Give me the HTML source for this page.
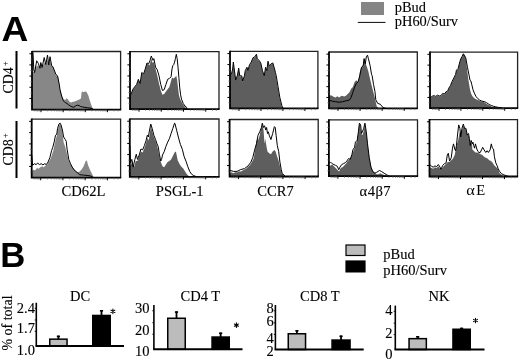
<!DOCTYPE html><html><head><meta charset="utf-8"><style>
html,body{margin:0;padding:0;background:#fff;width:520px;height:360px;overflow:hidden}
svg{display:block;filter:grayscale(1) blur(0.3px)}
.s{font-family:"Liberation Serif",serif;fill:#000;stroke:#000;stroke-width:0.12px}
.b{font-family:"Liberation Sans",sans-serif;font-weight:bold;fill:#000}
</style></head><body>
<svg width="520" height="360" viewBox="0 0 520 360">
<path d="M32,109.6 L32,72 L32,72 L34,72 L36.7,66 L38.3,65.5 L40,68.3 L40.8,65 L42.1,67.5 L44.2,62.5 L45.8,65 L47.5,60 L48.75,65 L50,60 L51.7,65.8 L52.9,66.7 L54.2,70 L55.8,74.2 L58.3,77.5 L59.38,84.92 L60,88.79 L61.72,94.83 L63.45,99.14 L65.17,100 L66.55,98.28 L67.76,99.14 L69.48,101.72 L71.21,102.59 L72.93,101.72 L74.66,101.38 L76.38,100.86 L78.1,100 L79.83,99.14 L81.03,98.28 L81.55,92.24 L82.41,91.38 L83.79,92.24 L85,91.38 L85.86,91.38 L86.72,92.24 L88.45,95.69 L89.66,100 L91.03,104.31 L92.41,107.76 L92.62,108.92 L92.62,109.6 Z" fill="#878787"/>
<path d="M32,52 L32,52 L33,52.5 L33.8,70 L34.6,72.5 L36.7,60.8 L38.3,63.3 L40,68.3 L40.8,62.5 L42.1,67.5 L44.2,57.5 L45.8,64.6 L47.5,55 L48.75,65 L50,56.7 L51.7,65.8 L52.9,66.7 L54.2,70 L55.8,74.2 L57.5,75.8 L59.38,84.92 L60,89.66 L61.72,96.55 L63.45,100.86 L65.17,102.59 L66.9,103.45 L68.62,104.83 L70.34,106.03 L72.07,106.9 L73.79,107.24 L75.52,106.03 L77.24,105.17 L78.97,105.52 L80.69,106.55 L82.41,106.9 L84.14,107.24 L87.59,107.76 L91.03,108.28 L92.76,108.62" fill="none" stroke="#000" stroke-width="1" stroke-linejoin="round"/>
<path d="M32,51.5 H120.6 V109.6" fill="none" stroke="#222" stroke-width="1.3"/>
<path d="M32,50.9 V109.6 H121.2" fill="none" stroke="#000" stroke-width="1.8"/>
<path d="M29.4,98.43H32M29.4,87.25H32M29.4,76.08H32M29.4,64.91H32M29.4,53.73H32M41,109.6V112.2M63.15,109.6V112.2M85.3,109.6V112.2M107.45,109.6V112.2" stroke="#000" stroke-width="1" fill="none"/>
<path d="M30.4,104.01H32M30.4,92.84H32M30.4,81.67H32M30.4,70.49H32M30.4,59.32H32M34.33,109.6V111.4M36.09,109.6V111.4M37.57,109.6V111.4M38.85,109.6V111.4M39.99,109.6V111.4M47.67,109.6V111.4M51.57,109.6V111.4M54.34,109.6V111.4M56.48,109.6V111.4M58.24,109.6V111.4M59.72,109.6V111.4M61,109.6V111.4M62.14,109.6V111.4M69.82,109.6V111.4M73.72,109.6V111.4M76.49,109.6V111.4M78.63,109.6V111.4M80.39,109.6V111.4M81.87,109.6V111.4M83.15,109.6V111.4M84.29,109.6V111.4M91.97,109.6V111.4M95.87,109.6V111.4M98.64,109.6V111.4M100.78,109.6V111.4M102.54,109.6V111.4M104.02,109.6V111.4M105.3,109.6V111.4M106.44,109.6V111.4M114.12,109.6V111.4M118.02,109.6V111.4" stroke="#666" stroke-width="0.7" fill="none"/>
<path d="M130,109.1 L130,96.21 L130,96.21 L130.59,95.69 L133.17,89.31 L136.62,85 L138.34,79.83 L140.07,84.14 L141.79,72.93 L143.52,74.66 L145.24,69.48 L146.97,63.45 L148.69,64.48 L149.55,65.52 L151.28,58.62 L152.66,62.93 L153.86,62.07 L155.59,68.97 L157.31,75.86 L159.03,83.62 L160.76,90.52 L162.48,94.83 L164.21,93.97 L165.93,91.38 L169.38,87.07 L172,77.59 L173.72,78.45 L175.45,76.72 L176.31,75.86 L177.17,80.17 L178.03,87.93 L178.9,94.83 L179.76,98.28 L181.48,101.72 L183.21,104.83 L184.93,106.9 L185.79,107.76 L186.92,108.92 L186.92,109.1 Z" fill="#5e5e5e"/>
<path d="M130,95.69 L130,95.69 L130.59,95.17 L133.17,88.79 L136.62,84.48 L138.34,79.31 L140.07,83.62 L141.79,72.41 L143.52,74.14 L145.24,68.97 L146.97,62.93 L148.69,63.79 L150.07,60.34 L151.28,56.03 L153,60.34 L153.86,58.62 L155.59,67.24 L157.31,69.83 L159.03,75.86 L160.76,84.48 L162.48,90.52 L164.21,89.66 L165.93,84.48 L167.66,79.31 L169.38,78.45 L171.1,76.72 L172,68.97 L172.86,65.52 L173.72,64.66 L174.59,62.07 L175.45,58.62 L176.31,54.31 L177.17,58.62 L178.03,67.24 L178.9,77.59 L179.76,87.93 L180.62,94.83 L181.48,99.14 L183.21,103.45 L184.93,106.03 L186.66,107.41 L186.92,108.92" fill="none" stroke="#000" stroke-width="1" stroke-linejoin="round"/>
<path d="M130,51.6 H219 V109.1" fill="none" stroke="#222" stroke-width="1.3"/>
<path d="M130,51 V109.1 H219.6" fill="none" stroke="#000" stroke-width="1.8"/>
<path d="M127.4,98.04H130M127.4,86.98H130M127.4,75.93H130M127.4,64.87H130M127.4,53.81H130M139,109.1V111.7M161.25,109.1V111.7M183.5,109.1V111.7M205.75,109.1V111.7" stroke="#000" stroke-width="1" fill="none"/>
<path d="M128.4,103.57H130M128.4,92.51H130M128.4,81.46H130M128.4,70.4H130M128.4,59.34H130M132.3,109.1V110.9M134.06,109.1V110.9M135.55,109.1V110.9M136.84,109.1V110.9M137.98,109.1V110.9M145.7,109.1V110.9M149.62,109.1V110.9M152.4,109.1V110.9M154.55,109.1V110.9M156.31,109.1V110.9M157.8,109.1V110.9M159.09,109.1V110.9M160.23,109.1V110.9M167.95,109.1V110.9M171.87,109.1V110.9M174.65,109.1V110.9M176.8,109.1V110.9M178.56,109.1V110.9M180.05,109.1V110.9M181.34,109.1V110.9M182.48,109.1V110.9M190.2,109.1V110.9M194.12,109.1V110.9M196.9,109.1V110.9M199.05,109.1V110.9M200.81,109.1V110.9M202.3,109.1V110.9M203.59,109.1V110.9M204.73,109.1V110.9M212.45,109.1V110.9M216.37,109.1V110.9" stroke="#666" stroke-width="0.7" fill="none"/>
<path d="M230,108.4 L230,76.55 L230,76.55 L230,76.55 L231.45,74.83 L232.66,69.66 L233.34,62.76 L234.03,67.93 L234.9,74.83 L235.76,80.86 L237.48,75.69 L238.69,68.79 L239.72,76.55 L241.79,76.55 L242.66,81.72 L244.38,76.55 L245.24,71.38 L246.97,67.93 L247.83,71.38 L249.55,65.34 L251.28,62.76 L253,58.45 L254.72,57.59 L256.45,55 L257.31,59.31 L259.03,61.03 L260.76,63.62 L262.48,71.38 L264.21,76.55 L265.59,67.93 L266.79,71.38 L268,61.9 L269.38,67.07 L271.1,64.48 L272.83,63.62 L274.55,69.66 L275.41,73.1 L275.85,75.69 L277.69,86.77 L279.54,97.85 L281.38,105.23 L282.31,108 L283.23,108.4 L283.23,108.4 Z" fill="#5e5e5e"/>
<path d="M230,75.86 L230,75.86 L230,75.86 L231.45,74.14 L232.66,68.97 L233.34,62.07 L234.03,67.24 L234.9,74.14 L235.76,80.17 L237.48,75 L238.69,68.1 L239.72,75.86 L241.79,75.86 L242.66,81.03 L244.38,75.86 L245.24,70.69 L246.97,67.24 L247.83,70.69 L249.55,64.66 L251.28,62.07 L253,57.76 L254.72,56.9 L256.45,54.31 L257.31,58.62 L259.03,60.34 L260.76,62.93 L262.48,70.69 L264.21,75.86 L265.59,67.24 L266.79,70.69 L268,61.21 L269.38,66.38 L271.1,63.79 L272.83,62.93 L274.55,68.97 L275.41,72.41 L276.22,75.69 L278.06,86.77 L279.91,97.85 L281.75,105.23 L282.68,108 L283.6,108.4" fill="none" stroke="#000" stroke-width="1" stroke-linejoin="round"/>
<path d="M230,51.4 H317.9 V108.4" fill="none" stroke="#222" stroke-width="1.3"/>
<path d="M230,50.8 V108.4 H318.5" fill="none" stroke="#000" stroke-width="1.8"/>
<path d="M227.4,97.44H230M227.4,86.48H230M227.4,75.52H230M227.4,64.55H230M227.4,53.59H230M239,108.4V111M260.98,108.4V111M282.95,108.4V111M304.92,108.4V111" stroke="#000" stroke-width="1" fill="none"/>
<path d="M228.4,102.92H230M228.4,91.96H230M228.4,81H230M228.4,70.03H230M228.4,59.07H230M232.38,108.4V110.2M234.12,108.4V110.2M235.6,108.4V110.2M236.87,108.4V110.2M237.99,108.4V110.2M245.62,108.4V110.2M249.48,108.4V110.2M252.23,108.4V110.2M254.36,108.4V110.2M256.1,108.4V110.2M257.57,108.4V110.2M258.85,108.4V110.2M259.97,108.4V110.2M267.59,108.4V110.2M271.46,108.4V110.2M274.21,108.4V110.2M276.33,108.4V110.2M278.07,108.4V110.2M279.55,108.4V110.2M280.82,108.4V110.2M281.94,108.4V110.2M289.57,108.4V110.2M293.43,108.4V110.2M296.18,108.4V110.2M298.31,108.4V110.2M300.05,108.4V110.2M301.52,108.4V110.2M302.8,108.4V110.2M303.92,108.4V110.2M311.54,108.4V110.2M315.41,108.4V110.2" stroke="#666" stroke-width="0.7" fill="none"/>
<path d="M329,108.3 L329,96.21 L329,96.21 L329,96.55 L330.45,95.17 L332.17,95.69 L333.9,96.9 L335.62,97.41 L337.34,96.21 L339.07,97.41 L341.66,95.69 L344.24,96.55 L345.97,95.69 L347.69,93.97 L349.41,92.24 L351.14,88.79 L352.86,87.07 L354.59,81.9 L356.31,80.17 L358.03,81.9 L358.9,78.45 L359.76,72.41 L361.48,67.24 L363.21,64.66 L364.07,57.76 L364.93,60.34 L365.79,63.79 L367,67.24 L368.38,71.55 L370.1,79.31 L371.83,86.21 L373.55,93.1 L374.93,98.28 L376.69,106.15 L378.54,108 L380.38,108.3 L380.38,108.3 Z" fill="#5e5e5e"/>
<path d="M329,100 L329,100 L329,100 L332.17,101.21 L335.62,101.72 L339.07,102.24 L342.52,101.72 L345.97,100.86 L349.41,100 L351.14,97.41 L352.86,92.24 L354.59,87.07 L356.31,83.62 L358.03,81.9 L359.76,75.86 L361.48,67.24 L363.21,65.52 L364.07,58.62 L365.28,63.79 L366.31,56.9 L367.52,55.17 L368.38,58.62 L370.1,65.52 L371.48,74.14 L372.17,75.86 L373.55,84.48 L374.93,91.38 L375.77,99.69 L377.62,103.38 L380.38,104.31 L382.23,106.71 L384.08,108 L385.92,108.3" fill="none" stroke="#000" stroke-width="1" stroke-linejoin="round"/>
<path d="M329,52 H417.3 V108.3" fill="none" stroke="#222" stroke-width="1.3"/>
<path d="M329,51.4 V108.3 H417.9" fill="none" stroke="#000" stroke-width="1.8"/>
<path d="M326.4,97.47H329M326.4,86.65H329M326.4,75.82H329M326.4,64.99H329M326.4,54.17H329M338,108.3V110.9M360.07,108.3V110.9M382.15,108.3V110.9M404.23,108.3V110.9" stroke="#000" stroke-width="1" fill="none"/>
<path d="M327.4,102.89H329M327.4,92.06H329M327.4,81.23H329M327.4,70.41H329M327.4,59.58H329M331.35,108.3V110.1M333.1,108.3V110.1M334.58,108.3V110.1M335.86,108.3V110.1M336.99,108.3V110.1M344.65,108.3V110.1M348.53,108.3V110.1M351.29,108.3V110.1M353.43,108.3V110.1M355.18,108.3V110.1M356.66,108.3V110.1M357.94,108.3V110.1M359.06,108.3V110.1M366.72,108.3V110.1M370.61,108.3V110.1M373.37,108.3V110.1M375.5,108.3V110.1M377.25,108.3V110.1M378.73,108.3V110.1M380.01,108.3V110.1M381.14,108.3V110.1M388.8,108.3V110.1M392.68,108.3V110.1M395.44,108.3V110.1M397.58,108.3V110.1M399.33,108.3V110.1M400.81,108.3V110.1M402.09,108.3V110.1M403.21,108.3V110.1M410.87,108.3V110.1M414.76,108.3V110.1" stroke="#666" stroke-width="0.7" fill="none"/>
<path d="M430,108.2 L430,98.62 L430,98.62 L430.59,98.28 L432.31,96.55 L434.03,96.21 L435.76,96.9 L437.48,95.69 L439.21,96.55 L440.93,96.21 L442.66,93.97 L444.38,94.48 L446.1,92.24 L447.83,91.38 L448.69,88.79 L450.41,86.21 L452.14,81.9 L453.86,78.45 L455.59,75 L456.45,70.69 L458.17,68.97 L459.9,62.07 L460.76,59.48 L462.14,56.9 L463.34,54.31 L464,55.17 L464.86,54.31 L465.72,58.62 L466.59,65.52 L467.45,72.41 L468.31,79.31 L469.17,84.48 L470.03,89.66 L471.24,93.97 L472.62,96.55 L474.34,98.28 L476.07,99.14 L477.79,100 L479.52,100.86 L481.24,101.38 L482.97,101.72 L484.69,102.59 L486.41,103.79 L488.14,104.83 L489.86,105.52 L491.59,106.55 L494.17,107.24 L496.76,107.76 L496.76,108.2 Z" fill="#5e5e5e"/>
<path d="M430,98.1 L430,98.1 L430.59,97.76 L432.31,96.03 L434.03,95.69 L435.76,96.38 L437.48,95.17 L439.21,96.03 L440.93,95.69 L442.66,93.45 L444.38,93.97 L446.1,91.72 L447.83,90.86 L448.69,88.28 L450.41,85.69 L452.14,81.38 L453.86,77.93 L455.59,74.48 L456.45,70.17 L458.17,68.45 L459.9,61.55 L460.76,58.97 L462.14,56.38 L463.34,53.79 L464,55.17 L465.72,57.76 L467.45,67.24 L468.83,74.14 L470.03,80.17 L470.9,81.03 L471.76,84.48 L472.97,89.66 L474.34,93.1 L476.07,96.55 L477.79,98.62 L479.52,100 L481.24,100.86 L482.97,101.38 L484.69,101.72 L486.41,102.59 L488.14,103.79 L489.86,104.83 L491.59,105.52 L493.31,106.21 L495.9,106.9 L498.48,107.41 L501.93,107.76" fill="none" stroke="#000" stroke-width="1" stroke-linejoin="round"/>
<path d="M430,52.2 H517.6 V108.2" fill="none" stroke="#222" stroke-width="1.3"/>
<path d="M430,51.6 V108.2 H518.2" fill="none" stroke="#000" stroke-width="1.8"/>
<path d="M427.4,97.43H430M427.4,86.66H430M427.4,75.89H430M427.4,65.12H430M427.4,54.35H430M439,108.2V110.8M460.9,108.2V110.8M482.8,108.2V110.8M504.7,108.2V110.8" stroke="#000" stroke-width="1" fill="none"/>
<path d="M428.4,102.82H430M428.4,92.05H430M428.4,81.28H430M428.4,70.51H430M428.4,59.74H430M432.41,108.2V110M434.14,108.2V110M435.61,108.2V110M436.88,108.2V110M438,108.2V110M445.59,108.2V110M449.45,108.2V110M452.19,108.2V110M454.31,108.2V110M456.04,108.2V110M457.51,108.2V110M458.78,108.2V110M459.9,108.2V110M467.49,108.2V110M471.35,108.2V110M474.09,108.2V110M476.21,108.2V110M477.94,108.2V110M479.41,108.2V110M480.68,108.2V110M481.8,108.2V110M489.39,108.2V110M493.25,108.2V110M495.99,108.2V110M498.11,108.2V110M499.84,108.2V110M501.31,108.2V110M502.58,108.2V110M503.7,108.2V110M511.29,108.2V110M515.15,108.2V110" stroke="#666" stroke-width="0.7" fill="none"/>
<path d="M31.7,177.7 L31.7,171.45 L31.7,171.45 L31.72,171.45 L33.45,169.72 L35.17,170.59 L36.9,168 L38.62,168.86 L40.34,167.14 L42.07,166.28 L43.79,167.14 L45.52,165.41 L47.24,164.55 L48.62,161.97 L49.83,160.24 L51.55,155.93 L53.28,150.76 L54.14,146.45 L55.86,138.69 L56.72,136.1 L57.59,130.07 L58.97,125.76 L60.17,124.03 L61.38,126.62 L62.76,135.24 L63.62,142.14 L65.34,147.31 L67.07,154.21 L68.79,161.1 L71.38,165.41 L73.97,168.86 L76.55,171.45 L77.93,172.31 L79.69,171.38 L81.54,169.54 L83.38,166.77 L85.23,162.15 L86.15,160.31 L87.08,161.23 L88,164.92 L89.85,169.54 L91.69,173.23 L93.54,176.92 L93.54,177.7 Z" fill="#878787"/>
<path d="M31.7,155.07 L31.7,155.07 L31.72,155.07 L32.59,165.41 L34.31,163.69 L36.03,164.55 L37.76,163.17 L39.48,164.55 L41.21,163.69 L42.93,164.9 L44.66,163.69 L46.38,164.55 L48.1,161.97 L49.83,157.66 L51.55,150.76 L52.76,147.31 L54.14,142.14 L55.52,135.24 L56.72,134.38 L57.59,128.34 L58.97,124.03 L60.17,123.17 L61.03,124.9 L62.41,130.07 L63.62,136.97 L65.34,139.55 L66.21,141.28 L67.07,149.03 L68.79,159.38 L70.52,163.69 L72.24,167.14 L73.97,169.72 L75.69,171.45 L77.93,173.17 L79.69,174.71 L83.38,175.08 L87.08,175.45 L90.77,176 L92.62,176.92" fill="none" stroke="#000" stroke-width="1" stroke-linejoin="round"/>
<path d="M31.7,119.1 H120.6 V177.7" fill="none" stroke="#222" stroke-width="1.3"/>
<path d="M31.7,118.5 V177.7 H121.2" fill="none" stroke="#000" stroke-width="1.8"/>
<path d="M29.1,166.43H31.7M29.1,155.16H31.7M29.1,143.89H31.7M29.1,132.62H31.7M29.1,121.35H31.7M40.7,177.7V180.3M62.92,177.7V180.3M85.15,177.7V180.3M107.38,177.7V180.3" stroke="#000" stroke-width="1" fill="none"/>
<path d="M30.1,172.07H31.7M30.1,160.8H31.7M30.1,149.53H31.7M30.1,138.26H31.7M30.1,126.99H31.7M34.01,177.7V179.5M35.77,177.7V179.5M37.26,177.7V179.5M38.55,177.7V179.5M39.68,177.7V179.5M47.39,177.7V179.5M51.3,177.7V179.5M54.08,177.7V179.5M56.23,177.7V179.5M57.99,177.7V179.5M59.48,177.7V179.5M60.77,177.7V179.5M61.91,177.7V179.5M69.62,177.7V179.5M73.53,177.7V179.5M76.31,177.7V179.5M78.46,177.7V179.5M80.22,177.7V179.5M81.71,177.7V179.5M83,177.7V179.5M84.13,177.7V179.5M91.84,177.7V179.5M95.75,177.7V179.5M98.53,177.7V179.5M100.68,177.7V179.5M102.44,177.7V179.5M103.93,177.7V179.5M105.22,177.7V179.5M106.36,177.7V179.5M114.07,177.7V179.5M117.98,177.7V179.5" stroke="#666" stroke-width="0.7" fill="none"/>
<path d="M129.8,176.8 L129.8,164.55 L129.8,164.55 L130.59,165.41 L132.31,161.1 L134.03,167.14 L135.76,161.1 L137.48,161.1 L139.21,155.93 L140.93,151.62 L142.66,152.48 L144.38,148.17 L146.1,143 L147.31,137.83 L148.69,140.41 L150.07,131.79 L150.93,125.76 L152.14,130.93 L153.86,136.97 L155.59,141.28 L157.31,146.45 L159.03,155.07 L160.76,161.97 L162.48,166.28 L164.21,167.14 L165.93,164.55 L167.66,161.97 L169.38,161.1 L171.1,159.38 L172.83,155.93 L174.55,152.48 L175.93,151.62 L177.69,160.31 L179.54,164 L181.38,166.77 L183.23,168.62 L185.08,171.38 L186.92,174.15 L188.77,176 L190.62,176.8 L190.62,176.8 Z" fill="#5e5e5e"/>
<path d="M129.8,145.59 L129.8,145.59 L130.59,162.83 L131.79,159.38 L133.17,167.14 L134.9,159.38 L136.28,154.21 L137.48,159.38 L139.21,155.07 L140.93,149.03 L142.66,149.9 L144.38,145.59 L146.1,140.41 L147.31,135.24 L148.34,136.97 L149.55,130.07 L150.76,124.03 L152.14,128.34 L153.86,135.24 L155.59,139.55 L156.97,143.86 L158.17,146.45 L159.38,154.21 L160.76,161.1 L161.62,159.38 L162.48,155.07 L164.21,151.62 L165.93,146.45 L167.66,142.14 L169.38,138.69 L171.1,133.52 L172.83,128.34 L174.55,123.17 L174.92,123.38 L176.77,130.77 L178.62,138.15 L180.46,144.62 L182.31,149.23 L184.15,156.62 L186,161.23 L187.85,166.77 L189.69,171.38 L191.54,174.15 L193.38,175.45 L196.15,176.55" fill="none" stroke="#000" stroke-width="1" stroke-linejoin="round"/>
<path d="M129.8,119 H219 V176.8" fill="none" stroke="#222" stroke-width="1.3"/>
<path d="M129.8,118.4 V176.8 H219.6" fill="none" stroke="#000" stroke-width="1.8"/>
<path d="M127.2,165.68H129.8M127.2,154.57H129.8M127.2,143.45H129.8M127.2,132.34H129.8M127.2,121.22H129.8M138.8,176.8V179.4M161.1,176.8V179.4M183.4,176.8V179.4M205.7,176.8V179.4" stroke="#000" stroke-width="1" fill="none"/>
<path d="M128.2,171.24H129.8M128.2,160.13H129.8M128.2,149.01H129.8M128.2,137.9H129.8M128.2,126.78H129.8M132.09,176.8V178.6M133.85,176.8V178.6M135.35,176.8V178.6M136.64,176.8V178.6M137.78,176.8V178.6M145.51,176.8V178.6M149.44,176.8V178.6M152.23,176.8V178.6M154.39,176.8V178.6M156.15,176.8V178.6M157.65,176.8V178.6M158.94,176.8V178.6M160.08,176.8V178.6M167.81,176.8V178.6M171.74,176.8V178.6M174.53,176.8V178.6M176.69,176.8V178.6M178.45,176.8V178.6M179.95,176.8V178.6M181.24,176.8V178.6M182.38,176.8V178.6M190.11,176.8V178.6M194.04,176.8V178.6M196.83,176.8V178.6M198.99,176.8V178.6M200.75,176.8V178.6M202.25,176.8V178.6M203.54,176.8V178.6M204.68,176.8V178.6M212.41,176.8V178.6M216.34,176.8V178.6" stroke="#666" stroke-width="0.7" fill="none"/>
<path d="M229.6,176.5 L229.6,173.23 L230.06,173.23 L231.54,172.31 L233.38,173.23 L235.23,172.31 L237.08,172.31 L238.92,171.38 L240.77,171.38 L242.62,170.46 L244.46,169.54 L246.31,168.62 L248.15,166.77 L250,164.92 L251.85,162.15 L253.69,158.46 L254.62,152.92 L255.54,147.38 L256.46,141.85 L257.38,138.15 L258,140.41 L259.72,135.24 L261.1,128.34 L262.31,124.03 L263.52,130.07 L264.55,143.86 L265.24,138.69 L266.62,147.31 L267.48,151.62 L269.21,153.34 L270.93,154.21 L272.66,151.62 L274.38,149.9 L275.59,151.62 L276.97,155.93 L278.69,161.1 L280.41,168 L281.79,173.17 L282.48,174.9 L283.23,175.08 L284.15,176.37 L284.15,176.5 Z" fill="#5e5e5e"/>
<path d="M229.6,170.46 L230.06,170.46 L233.38,171.38 L237.08,171.38 L240.77,169.54 L244.46,168.62 L248.15,165.85 L250.92,162.15 L252.77,157.54 L254.62,150.15 L256.46,143.69 L258,135.24 L259.72,131.79 L261.45,127.48 L262.31,123.17 L263.52,127.48 L264.55,125.76 L265.76,130.07 L266.62,127.48 L267.48,133.52 L268.34,131.79 L269.21,135.24 L270.93,139.55 L272.66,133.52 L274.38,126.62 L275.24,127.48 L276.1,135.24 L277.31,145.59 L278.69,151.62 L279.9,161.97 L281.28,169.72 L282.14,173.17 L283,174.9 L283.23,174.15 L285.08,176.37" fill="none" stroke="#000" stroke-width="1" stroke-linejoin="round"/>
<path d="M229.6,119.5 H318.2 V176.5" fill="none" stroke="#222" stroke-width="1.3"/>
<path d="M229.6,118.9 V176.5 H318.8" fill="none" stroke="#000" stroke-width="1.8"/>
<path d="M227,165.54H229.6M227,154.58H229.6M227,143.62H229.6M227,132.65H229.6M227,121.69H229.6M238.6,176.5V179.1M260.75,176.5V179.1M282.9,176.5V179.1M305.05,176.5V179.1" stroke="#000" stroke-width="1" fill="none"/>
<path d="M228,171.02H229.6M228,160.06H229.6M228,149.1H229.6M228,138.13H229.6M228,127.17H229.6M231.93,176.5V178.3M233.69,176.5V178.3M235.17,176.5V178.3M236.45,176.5V178.3M237.59,176.5V178.3M245.27,176.5V178.3M249.17,176.5V178.3M251.94,176.5V178.3M254.08,176.5V178.3M255.84,176.5V178.3M257.32,176.5V178.3M258.6,176.5V178.3M259.74,176.5V178.3M267.42,176.5V178.3M271.32,176.5V178.3M274.09,176.5V178.3M276.23,176.5V178.3M277.99,176.5V178.3M279.47,176.5V178.3M280.75,176.5V178.3M281.89,176.5V178.3M289.57,176.5V178.3M293.47,176.5V178.3M296.24,176.5V178.3M298.38,176.5V178.3M300.14,176.5V178.3M301.62,176.5V178.3M302.9,176.5V178.3M304.04,176.5V178.3M311.72,176.5V178.3M315.62,176.5V178.3" stroke="#666" stroke-width="0.7" fill="none"/>
<path d="M328.9,176.2 L328.9,166.62 L328.9,166.62 L328.9,166.28 L330.45,165.41 L332.17,164.55 L333.9,166.28 L335.62,168 L337.34,169.72 L339.07,171.45 L340.79,168 L342.52,167.14 L344.24,165.41 L345.97,163.69 L347.69,161.1 L349.41,159.38 L351.14,156.79 L352.86,152.48 L354.59,148.17 L356.31,143 L358.03,135.24 L359.07,124.9 L360.1,124.03 L361.14,133.52 L362.34,135.24 L363.55,131.79 L364.93,124.03 L366.31,132.66 L368.03,147.31 L369.76,160.24 L371.48,168 L373.21,171.45 L374.93,172.83 L376.69,174.15 L378.54,174.15 L380.38,173.23 L382.23,174.15 L384.08,175.08 L386.85,176 L388.69,176.2 L388.69,176.2 Z" fill="#5e5e5e"/>
<path d="M328.9,163.17 L328.9,163.17 L328.9,163.69 L330.45,161.97 L332.17,163.69 L333.9,164.55 L335.62,165.41 L337.34,166.28 L338.72,169.72 L339.93,167.14 L341.66,164.55 L343.38,163.69 L345.1,162.83 L346.83,161.1 L348.55,158.52 L350.28,159.38 L352,154.21 L352.86,149.9 L354.59,147.31 L355.45,142.14 L357.17,140.41 L358.38,131.79 L359.41,123.17 L360.62,124.9 L361.48,133.52 L362.69,130.93 L363.72,128.34 L364.93,123.17 L366.31,131.79 L367.52,143.86 L369.24,157.66 L370.97,167.14 L372.69,171.45 L374.93,173.17 L376.69,172.31 L379.46,170.46 L381.31,171.38 L384.08,173.23 L387.77,175.45 L389.62,176.2" fill="none" stroke="#000" stroke-width="1" stroke-linejoin="round"/>
<path d="M328.9,119.8 H417.5 V176.2" fill="none" stroke="#222" stroke-width="1.3"/>
<path d="M328.9,119.2 V176.2 H418.1" fill="none" stroke="#000" stroke-width="1.8"/>
<path d="M326.3,165.35H328.9M326.3,154.51H328.9M326.3,143.66H328.9M326.3,132.82H328.9M326.3,121.97H328.9M337.9,176.2V178.8M360.05,176.2V178.8M382.2,176.2V178.8M404.35,176.2V178.8" stroke="#000" stroke-width="1" fill="none"/>
<path d="M327.3,170.78H328.9M327.3,159.93H328.9M327.3,149.08H328.9M327.3,138.24H328.9M327.3,127.39H328.9M331.23,176.2V178M332.99,176.2V178M334.47,176.2V178M335.75,176.2V178M336.89,176.2V178M344.57,176.2V178M348.47,176.2V178M351.24,176.2V178M353.38,176.2V178M355.14,176.2V178M356.62,176.2V178M357.9,176.2V178M359.04,176.2V178M366.72,176.2V178M370.62,176.2V178M373.39,176.2V178M375.53,176.2V178M377.29,176.2V178M378.77,176.2V178M380.05,176.2V178M381.19,176.2V178M388.87,176.2V178M392.77,176.2V178M395.54,176.2V178M397.68,176.2V178M399.44,176.2V178M400.92,176.2V178M402.2,176.2V178M403.34,176.2V178M411.02,176.2V178M414.92,176.2V178" stroke="#666" stroke-width="0.7" fill="none"/>
<path d="M429.5,176.5 L429.5,167.14 L429.5,167.14 L429.72,167.14 L431.45,168 L433.17,168.86 L434.9,167.14 L436.62,168 L438.34,166.28 L440.07,168.86 L440.93,170.59 L442.66,167.14 L444.38,165.41 L446.1,163.69 L447.83,161.97 L449.55,161.97 L451.28,160.24 L453,158.52 L454.72,155.07 L455.93,148.17 L456.97,143.86 L458.17,140.41 L459.38,133.52 L460.76,131.79 L461.79,130.93 L463.34,125.76 L464.21,127.48 L465.07,128.34 L466.28,130.07 L467.66,135.24 L469.03,136.1 L470.24,145.59 L471.97,142.14 L472.34,149.38 L473.72,150.76 L475.45,152.48 L477.17,152.48 L478.9,153.34 L480.62,154.21 L482.34,155.07 L484.07,156.79 L485.79,157.66 L487.52,158.52 L489.24,160.24 L490.97,161.1 L492.69,162.83 L494.41,165.41 L496.14,167.14 L497.86,168.86 L499.59,173.17 L501.31,174.55 L503.03,175.76 L505.23,176 L508.92,176.5 L508.92,176.5 Z" fill="#5e5e5e"/>
<path d="M429.5,164.21 L429.5,164.21 L429.72,164.55 L431.45,166.28 L433.17,167.14 L434.9,165.93 L436.62,166.62 L438.34,164.55 L440.07,167.14 L440.93,169.72 L442.66,165.41 L444.38,163.69 L446.1,162.83 L447.31,155.07 L448.34,153.34 L449.55,161.1 L451.28,157.66 L452.48,148.17 L453.52,143.86 L454.72,149.03 L455.59,150.76 L456.45,145.59 L457.31,136.97 L458.69,124.9 L459.9,128.34 L460.76,136.97 L461.97,128.34 L463.34,124.03 L464.55,128.34 L465.93,128.34 L467.31,135.24 L468.52,133.52 L469.38,138.69 L470.24,145.59 L471.1,140.41 L472.34,143.86 L472.86,142.14 L473.72,145.59 L474.59,148.17 L475.45,143.86 L476.83,149.03 L478.03,151.62 L478.9,152.48 L480.28,152.48 L481.48,149.9 L482.69,147.31 L484.07,149.9 L485.79,152.48 L487.17,150.76 L488.38,152.48 L490.1,149.9 L491.31,143.86 L492.34,148.17 L493.55,149.03 L494.41,156.79 L495.79,162.83 L497,165.41 L498.21,168.86 L499.59,171.45 L501.31,173.52 L503.9,174.9 L506.48,175.76 L508.92,176.5" fill="none" stroke="#000" stroke-width="1" stroke-linejoin="round"/>
<path d="M429.5,119.6 H517.5 V176.5" fill="none" stroke="#222" stroke-width="1.3"/>
<path d="M429.5,119 V176.5 H518.1" fill="none" stroke="#000" stroke-width="1.8"/>
<path d="M426.9,165.56H429.5M426.9,154.62H429.5M426.9,143.67H429.5M426.9,132.73H429.5M426.9,121.79H429.5M438.5,176.5V179.1M460.5,176.5V179.1M482.5,176.5V179.1M504.5,176.5V179.1" stroke="#000" stroke-width="1" fill="none"/>
<path d="M427.9,171.03H429.5M427.9,160.09H429.5M427.9,149.14H429.5M427.9,138.2H429.5M427.9,127.26H429.5M431.88,176.5V178.3M433.62,176.5V178.3M435.09,176.5V178.3M436.37,176.5V178.3M437.49,176.5V178.3M445.12,176.5V178.3M449,176.5V178.3M451.75,176.5V178.3M453.88,176.5V178.3M455.62,176.5V178.3M457.09,176.5V178.3M458.37,176.5V178.3M459.49,176.5V178.3M467.12,176.5V178.3M471,176.5V178.3M473.75,176.5V178.3M475.88,176.5V178.3M477.62,176.5V178.3M479.09,176.5V178.3M480.37,176.5V178.3M481.49,176.5V178.3M489.12,176.5V178.3M493,176.5V178.3M495.75,176.5V178.3M497.88,176.5V178.3M499.62,176.5V178.3M501.09,176.5V178.3M502.37,176.5V178.3M503.49,176.5V178.3M511.12,176.5V178.3M515,176.5V178.3" stroke="#666" stroke-width="0.7" fill="none"/>
<rect x="15.5" y="51" width="2" height="57.5" fill="#000"/>
<rect x="15.5" y="121" width="2" height="57" fill="#000"/>
<text class="s" font-size="14" transform="translate(12.9,93.6) rotate(-90)">CD4<tspan font-size="7.5" dy="-5.2" dx="1.4">+</tspan></text>
<text class="s" font-size="14" transform="translate(12.9,165.6) rotate(-90)">CD8<tspan font-size="7.5" dy="-5.2" dx="1.4">+</tspan></text>
<text class="b" font-size="35" transform="translate(1.4,40.6) scale(1.06,1)">A</text>
<text class="b" font-size="35.8" transform="translate(0.3,267.2) scale(0.97,1)">B</text>
<rect x="361" y="2" width="23" height="13" fill="#858585"/>
<rect x="357.8" y="21.9" width="27.7" height="1.1" fill="#222"/>
<text class="s" font-size="14.4" x="394.8" y="11.7">pBud</text>
<text class="s" font-size="14.4" x="394.8" y="26">pH60/Surv</text>
<text class="s" font-size="14.6" style="stroke-width:0" transform="translate(466.3,195) scale(1.12,1)">α</text>
<text class="s" font-size="14.6" style="stroke-width:0.05px" x="476.2" y="195">E</text>
<text class="s" font-size="14.6" x="61.6" y="195.6" letter-spacing="0">CD62L</text>
<text class="s" font-size="14.6" x="155.8" y="195.6" letter-spacing="0">PSGL-1</text>
<text class="s" font-size="14.6" x="257.2" y="195.6" letter-spacing="0">CCR7</text>
<text class="s" font-size="14.6" x="359.6" y="195.6" letter-spacing="0.45">α4β7</text>
<rect x="346" y="245" width="19" height="10.5" fill="#bcbcbc" stroke="#000" stroke-width="1.2"/>
<rect x="345.4" y="260.4" width="20.2" height="12.1" fill="#000"/>
<text class="s" font-size="14.5" x="383.3" y="259">pBud</text>
<text class="s" font-size="14.5" x="383.3" y="274.8">pH60/Surv</text>
<text class="s" font-size="14" transform="translate(12.2,350.6) rotate(-90)">% of total</text>
<text class="s" font-size="14.5" x="70" y="301.3">DC</text>
<text class="s" font-size="14.5" x="34.9" y="312.6" text-anchor="end">2.4</text>
<text class="s" font-size="14.5" x="34.9" y="333" text-anchor="end">1.7</text>
<text class="s" font-size="14.5" x="34.9" y="355.2" text-anchor="end">1.0</text>
<rect x="49.75" y="339.15" width="17.3" height="6.85" fill="#bcbcbc" stroke="#000" stroke-width="1.5"/>
<path d="M58.4,335.6V339.4" stroke="#000" stroke-width="1.8"/>
<path d="M56.8,336.4H60" stroke="#000" stroke-width="1.6"/>
<rect x="92.75" y="315.45" width="17.5" height="30.55" fill="#000" stroke="#000" stroke-width="1.5"/>
<path d="M101.5,310V315.7" stroke="#000" stroke-width="1.8"/>
<path d="M99.9,310.8H103.1" stroke="#000" stroke-width="1.6"/>
<path d="M36.3,302.7V346" stroke="#000" stroke-width="1.6" fill="none"/>
<path d="M35.5,346H124" stroke="#000" stroke-width="2" fill="none"/>
<path d="M34.7,308.33H36.3M34.7,320.02H36.3M34.7,331.28H36.3" stroke="#000" stroke-width="0.9" fill="none"/>
<path d="M112.9,309L112.9,313.6M110.91,310.15L114.89,312.45M110.91,312.45L114.89,310.15" stroke="#000" stroke-width="1.05" stroke-linecap="round" fill="none"/>
<text class="s" font-size="14.5" x="180.5" y="301.3">CD4 T</text>
<text class="s" font-size="14.5" x="149.5" y="312.8" text-anchor="end">30</text>
<text class="s" font-size="14.5" x="149.5" y="334.6" text-anchor="end">20</text>
<text class="s" font-size="14.5" x="149.5" y="356.3" text-anchor="end">10</text>
<rect x="167.75" y="318.25" width="17.5" height="31.05" fill="#bcbcbc" stroke="#000" stroke-width="1.5"/>
<path d="M176.5,311.3V318.5" stroke="#000" stroke-width="1.8"/>
<path d="M174.9,312.1H178.1" stroke="#000" stroke-width="1.6"/>
<rect x="212.05" y="337.05" width="17.2" height="12.25" fill="#000" stroke="#000" stroke-width="1.5"/>
<path d="M220.65,332.5V337.3" stroke="#000" stroke-width="1.8"/>
<path d="M219.05,333.3H222.25" stroke="#000" stroke-width="1.6"/>
<path d="M153.9,305V349.3" stroke="#000" stroke-width="1.6" fill="none"/>
<path d="M153.1,349.3H242.5" stroke="#000" stroke-width="2" fill="none"/>
<path d="M152.3,310.76H153.9M152.3,322.72H153.9M152.3,334.24H153.9" stroke="#000" stroke-width="0.9" fill="none"/>
<path d="M236.4,322.8L236.4,327.4M234.41,323.95L238.39,326.25M234.41,326.25L238.39,323.95" stroke="#000" stroke-width="1.05" stroke-linecap="round" fill="none"/>
<text class="s" font-size="14.5" x="300" y="301.3">CD8 T</text>
<text class="s" font-size="14.5" x="273.8" y="313" text-anchor="end">8</text>
<text class="s" font-size="14.5" x="273.8" y="326.2" text-anchor="end">6</text>
<text class="s" font-size="14.5" x="273.8" y="343.2" text-anchor="end">4</text>
<text class="s" font-size="14.5" x="273.8" y="356.3" text-anchor="end">2</text>
<rect x="288.25" y="333.75" width="17.3" height="15.75" fill="#bcbcbc" stroke="#000" stroke-width="1.5"/>
<path d="M296.9,330V334" stroke="#000" stroke-width="1.8"/>
<path d="M295.3,330.8H298.5" stroke="#000" stroke-width="1.6"/>
<rect x="332.05" y="340.05" width="18" height="9.45" fill="#000" stroke="#000" stroke-width="1.5"/>
<path d="M341.05,335.5V340.3" stroke="#000" stroke-width="1.8"/>
<path d="M339.45,336.3H342.65" stroke="#000" stroke-width="1.6"/>
<path d="M275.4,305V349.5" stroke="#000" stroke-width="1.6" fill="none"/>
<path d="M274.6,349.5H363.7" stroke="#000" stroke-width="2" fill="none"/>
<path d="M273.8,310.79H275.4M273.8,322.8H275.4M273.8,334.37H275.4" stroke="#000" stroke-width="0.9" fill="none"/>
<text class="s" font-size="14.5" x="428.5" y="301.3">NK</text>
<text class="s" font-size="14.5" x="392.5" y="314.7" text-anchor="end">4</text>
<text class="s" font-size="14.5" x="392.5" y="337.5" text-anchor="end">2</text>
<text class="s" font-size="14.5" x="392.5" y="359" text-anchor="end">0</text>
<rect x="409.05" y="338.65" width="17.3" height="10.85" fill="#bcbcbc" stroke="#000" stroke-width="1.5"/>
<path d="M417.7,336V338.9" stroke="#000" stroke-width="1.8"/>
<path d="M416.1,336.8H419.3" stroke="#000" stroke-width="1.6"/>
<rect x="452.95" y="329.25" width="17.3" height="20.25" fill="#000" stroke="#000" stroke-width="1.5"/>
<path d="M461.6,327.7V329.5" stroke="#000" stroke-width="1.8"/>
<path d="M460,328.5H463.2" stroke="#000" stroke-width="1.6"/>
<path d="M395.3,305.6V349.5" stroke="#000" stroke-width="1.6" fill="none"/>
<path d="M394.5,349.5H484.5" stroke="#000" stroke-width="2" fill="none"/>
<path d="M393.7,311.31H395.3M393.7,323.16H395.3M393.7,334.57H395.3" stroke="#000" stroke-width="0.9" fill="none"/>
<path d="M475.5,318.2L475.5,322.8M473.51,319.35L477.49,321.65M473.51,321.65L477.49,319.35" stroke="#000" stroke-width="1.05" stroke-linecap="round" fill="none"/>
</svg></body></html>
